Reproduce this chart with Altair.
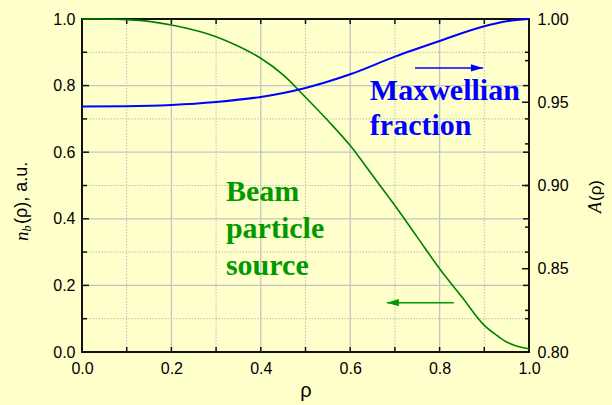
import altair as alt
import pandas as pd

# Beam particle source profile n_b(rho), left axis (a.u.)
rho_nb = [0.0, 0.05, 0.1, 0.15, 0.2, 0.25, 0.3, 0.35, 0.4, 0.45, 0.5, 0.55,
          0.6, 0.65, 0.7, 0.75, 0.8, 0.85, 0.9, 0.93, 0.95, 0.97, 1.0]
nb = [1.0, 1.0, 0.998, 0.993, 0.982, 0.967, 0.947, 0.918, 0.882, 0.832, 0.765, 0.695,
      0.62, 0.53, 0.44, 0.345, 0.25, 0.165, 0.08, 0.048, 0.03, 0.019, 0.01]

# Maxwellian fraction A(rho), right axis
rho_a = [0.0, 0.1, 0.2, 0.3, 0.4, 0.5, 0.6, 0.7, 0.8, 0.9, 0.95, 1.0]
a_frac = [0.9474, 0.9476, 0.9484, 0.9502, 0.9532, 0.9586, 0.9668, 0.9774,
          0.9868, 0.9956, 0.9986, 1.0]

# axis tick values
x_labels = [0.0, 0.2, 0.4, 0.6, 0.8, 1.0]
x_major = [0.2, 0.4, 0.6, 0.8]
x_minor = [0.1, 0.3, 0.5, 0.7, 0.9]
x_ticks = [0.1, 0.2, 0.3, 0.4, 0.5, 0.6, 0.7, 0.8, 0.9]
yl_labels = [0.0, 0.2, 0.4, 0.6, 0.8, 1.0]
yl_major = [0.2, 0.4, 0.6, 0.8]
yl_minor = [0.1, 0.3, 0.5, 0.7, 0.9]
ya_labels = [0.80, 0.85, 0.90, 0.95, 1.00]
ya_major = [0.85, 0.90, 0.95]
ya_minor = [0.825, 0.875, 0.925, 0.975]

# annotation text lines and arrows
maxw_lines = ["Maxwellian", "fraction"]
maxw_y = [0.757, 0.652]
maxw_x = 0.644
beam_lines = ["Beam", "particle", "source"]
beam_y = [0.453, 0.342, 0.231]
beam_x = 0.322
blue_arrow_x = [0.745, 0.897]
blue_arrow_y = 0.853
green_arrow_x = [0.682, 0.832]
green_arrow_y = 0.148

W, H = 447, 333
BLUE = "#0000FF"
GREEN = "#008000"
GREEN_TXT = "#009900"
SANS = "Liberation Sans"
SERIF = "Liberation Serif"

xscale = alt.Scale(domain=[0, 1], nice=False, zero=False)
xaxis = alt.Axis(values=x_labels, format=".1f", ticks=False, domain=False, grid=False,
                 labelFlush=False, labelPadding=8, labelFontSize=16, labelFont=SANS,
                 labelColor="black", title="ρ", titleFont=SANS, titleFontSize=20,
                 titleFontWeight="normal", titleColor="black", titlePadding=4)
X = alt.X("x:Q", scale=xscale, axis=xaxis)

lscale = alt.Scale(domain=[0, 1], nice=False, zero=False)
laxis = alt.Axis(orient="left", values=yl_labels, format=".1f", ticks=False, domain=False,
                 grid=False, labelPadding=7, labelFontSize=16, labelFont=SANS,
                 labelColor="black", title=None)
YL = alt.Y("y:Q", scale=lscale, axis=laxis)

ascale = alt.Scale(domain=[0.8, 1.0], nice=False, zero=False)
aaxis = alt.Axis(orient="right", values=ya_labels, format=".2f", ticks=False, domain=False,
                 grid=False, labelPadding=8, labelFontSize=16, labelFont=SANS,
                 labelColor="black", title=None)
YA = alt.Y("y:Q", scale=ascale, axis=aaxis)


def col(vals, name):
    return pd.DataFrame({name: vals})


# grid
grid_x_major = alt.Chart(col(x_major, "x")).mark_rule(color="#C4C4C4", strokeWidth=1.3).encode(x=X)
grid_x_minor = alt.Chart(col(x_minor, "x")).mark_rule(
    color="#BDBDBD", strokeWidth=1, strokeDash=[1.5, 1.5]).encode(x=X)
grid_y_major = alt.Chart(col(yl_major, "y")).mark_rule(color="#C4C4C4", strokeWidth=1.3).encode(y=YL)
grid_y_minor = alt.Chart(col(yl_minor, "y")).mark_rule(
    color="#BDBDBD", strokeWidth=1, strokeDash=[1.5, 1.5]).encode(y=YL)

# inward ticks on all four sides
tick_style = dict(color="#111111", strokeWidth=1.5)
ticks_bottom = alt.Chart(col(x_ticks, "x")).mark_rule(**tick_style).encode(
    x=X, y=alt.value(H), y2=alt.value(H - 5))
ticks_top = alt.Chart(col(x_ticks, "x")).mark_rule(**tick_style).encode(
    x=X, y=alt.value(0), y2=alt.value(5))
ticks_left_major = alt.Chart(col(yl_major, "y")).mark_rule(**tick_style).encode(
    y=YL, x=alt.value(0), x2=alt.value(7))
ticks_left_minor = alt.Chart(col(yl_minor, "y")).mark_rule(**tick_style).encode(
    y=YL, x=alt.value(0), x2=alt.value(5))
ticks_rmirror_major = alt.Chart(col(yl_major, "y")).mark_rule(**tick_style).encode(
    y=YL, x=alt.value(W), x2=alt.value(W - 6))
ticks_rmirror_minor = alt.Chart(col(yl_minor, "y")).mark_rule(**tick_style).encode(
    y=YL, x=alt.value(W), x2=alt.value(W - 4))

# n_b curve
nb_line = alt.Chart(pd.DataFrame({"x": rho_nb, "y": nb})).mark_line(
    color=GREEN, strokeWidth=1.6, interpolate="monotone").encode(x=X, y=YL)

# annotations
maxw_text = alt.Chart(pd.DataFrame({"t": maxw_lines, "y": maxw_y, "x": [maxw_x] * 2})).mark_text(
    font=SERIF, fontWeight="bold", fontSize=30, color=BLUE, align="left",
    baseline="alphabetic").encode(x=X, y=YL, text="t:N")
beam_text = alt.Chart(pd.DataFrame({"t": beam_lines, "y": beam_y, "x": [beam_x] * 3})).mark_text(
    font=SERIF, fontWeight="bold", fontSize=30, color=GREEN_TXT, align="left",
    baseline="alphabetic").encode(x=X, y=YL, text="t:N")

blue_arrow = alt.Chart(pd.DataFrame({"x": blue_arrow_x, "y": [blue_arrow_y] * 2})).mark_line(
    color=BLUE, strokeWidth=1.5).encode(x=X, y=YL)
blue_head = alt.Chart(pd.DataFrame({"x": [blue_arrow_x[1]], "y": [blue_arrow_y]})).mark_point(
    shape="M0,0L-2,-0.6L-2,0.6Z", size=144, filled=True, opacity=1, color=BLUE).encode(x=X, y=YL)
green_arrow = alt.Chart(pd.DataFrame({"x": green_arrow_x, "y": [green_arrow_y] * 2})).mark_line(
    color=GREEN_TXT, strokeWidth=1.5).encode(x=X, y=YL)
green_head = alt.Chart(pd.DataFrame({"x": [green_arrow_x[0]], "y": [green_arrow_y]})).mark_point(
    shape="M0,0L2,-0.6L2,0.6Z", size=144, filled=True, opacity=1, color=GREEN_TXT).encode(x=X, y=YL)

# axis titles built from styled pieces (rotated, reading upwards)
one = pd.DataFrame({"k": [0]})


def rot_text(txt, x, y, font, size, style="normal"):
    return alt.Chart(one).mark_text(
        text=txt, font=font, fontSize=size, fontStyle=style, angle=270, align="left",
        baseline="middle", color="black").encode(x=alt.value(x), y=alt.value(y))


title_left = [
    rot_text("n", -60, 222, SERIF, 19, "italic"),
    rot_text("b", -55, 212.5, SERIF, 12, "italic"),
    rot_text("(ρ), a.u.", -60, 205, SANS, 18),
]
title_right = [
    rot_text("A", 514, 194, SERIF, 18, "italic"),
    rot_text("(ρ)", 514, 182, SANS, 17),
]

left_group = alt.layer(
    grid_x_minor, grid_y_minor, grid_x_major, grid_y_major,
    ticks_bottom, ticks_top, ticks_left_major, ticks_left_minor,
    ticks_rmirror_major, ticks_rmirror_minor,
    nb_line, maxw_text, beam_text, blue_arrow, blue_head, green_arrow, green_head,
    *title_left, *title_right,
)

# A(rho) curve and its own ticks on the right axis
a_line = alt.Chart(pd.DataFrame({"x": rho_a, "y": a_frac})).mark_line(
    color=BLUE, strokeWidth=2, interpolate="monotone").encode(x=X, y=YA)
ticks_a_major = alt.Chart(col(ya_major, "y")).mark_rule(**tick_style).encode(
    y=YA, x=alt.value(W), x2=alt.value(W - 7))
ticks_a_minor = alt.Chart(col(ya_minor, "y")).mark_rule(**tick_style).encode(
    y=YA, x=alt.value(W), x2=alt.value(W - 4))
right_group = alt.layer(ticks_a_major, ticks_a_minor, a_line)

chart = alt.layer(left_group, right_group).resolve_scale(y="independent").properties(
    width=W, height=H,
    autosize=alt.AutoSizeParams(type="none"),
    padding={"left": 82, "top": 19, "right": 83, "bottom": 53},
    background="#FFFFCC",
).configure_view(stroke="#111111", strokeWidth=2, fill="#FFFFCC")

chart.save("out.html", embed_options={"renderer": "svg", "actions": False})
